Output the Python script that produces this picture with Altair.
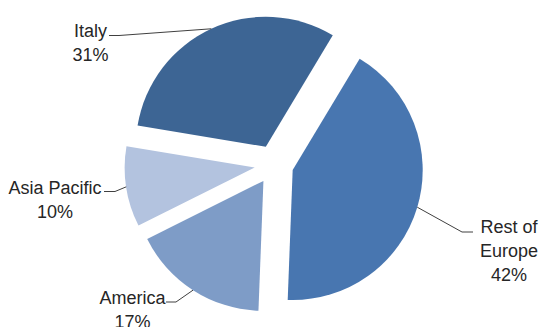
import math
import altair as alt
import pandas as pd

# ---- data ----
regions = ["Rest of Europe", "America", "Asia Pacific", "Italy"]
shares = [42, 17, 10, 31]
label_names = ["Rest of\nEurope", "America", "Asia Pacific", "Italy"]
colors = ["#4876B0", "#7E9CC7", "#B3C3DF", "#3D6594"]

# ---- layout (pixels) ----
W, H = 539, 327
CX, CY = 274, 164.5      # pie centre
R = 130                  # pie radius
D = 19.5                 # explode distance
START = math.radians(31) # first slice starts at 31 deg clockwise from 12 o'clock
# label anchors: text centre x, first baseline y; leader elbow and end
label_x = [509, 132.5, 55, 90.5]
label_y = [232.5, 303.5, 193.5, 37]
elbow_x = [462, 176, 115, 119]
elbow_y = [232, 302, 191.5, 35.5]
end_x = [473, 166, 104, 109]
end_y = [232, 302, 191.5, 35.5]

df = pd.DataFrame({
    "order": list(range(len(regions))),
    "region": regions,
    "share": shares,
    "label": [f"{n}\n{s}%" for n, s in zip(label_names, shares)],
    "tx": label_x, "ty": label_y,
    "ex": elbow_x, "ey": elbow_y,
    "fx": end_x, "fy": end_y,
})

xs = alt.Scale(domain=[0, W], range=[0, W], nice=False, zero=False)
ys = alt.Scale(domain=[0, H], range=[0, H], nice=False, zero=False)

base = (
    alt.Chart(df)
    .transform_window(cum="sum(share)", sort=[alt.SortField("order")], frame=[None, 0])
    .transform_calculate(
        start="datum.cum - datum.share",
        ang=f"{START} + (datum.cum - datum.share/2)/100*2*PI",
    )
    .transform_calculate(
        cx=f"{CX} + {D}*sin(datum.ang)",
        cy=f"{CY} - {D}*cos(datum.ang)",
    )
    .transform_calculate(
        sx=f"datum.cx + {R}*sin(datum.ang)",
        sy=f"datum.cy - {R}*cos(datum.ang)",
    )
)

pie = base.mark_arc(radius=R, stroke=None).encode(
    x=alt.X("cx:Q", scale=xs, axis=None),
    y=alt.Y("cy:Q", scale=ys, axis=None),
    theta=alt.Theta("start:Q", stack=None,
                    scale=alt.Scale(domain=[0, 100], range=[START, START + 2 * math.pi])),
    theta2="cum:Q",
    color=alt.Color("region:N", scale=alt.Scale(domain=regions, range=colors), legend=None),
)

lead1 = base.mark_rule(color="#404040", strokeWidth=1).encode(
    x=alt.X("sx:Q", scale=xs, axis=None),
    y=alt.Y("sy:Q", scale=ys, axis=None),
    x2="ex:Q", y2="ey:Q",
)
lead2 = base.mark_rule(color="#404040", strokeWidth=1).encode(
    x=alt.X("ex:Q", scale=xs, axis=None),
    y=alt.Y("ey:Q", scale=ys, axis=None),
    x2="fx:Q", y2="fy:Q",
)

labels = base.mark_text(
    align="center", baseline="alphabetic", lineBreak="\n", lineHeight=24,
    fontSize=18, font="Liberation Sans", color="#262626",
).encode(
    x=alt.X("tx:Q", scale=xs, axis=None),
    y=alt.Y("ty:Q", scale=ys, axis=None),
    text="label:N",
)

chart = (
    alt.layer(pie, lead1, lead2, labels)
    .properties(width=W, height=H, padding=0, autosize=alt.AutoSizeParams(type="none"),
                background="white")
    .configure_view(stroke=None)
)

chart.save("out.html", embed_options={"renderer": "svg", "actions": False})
